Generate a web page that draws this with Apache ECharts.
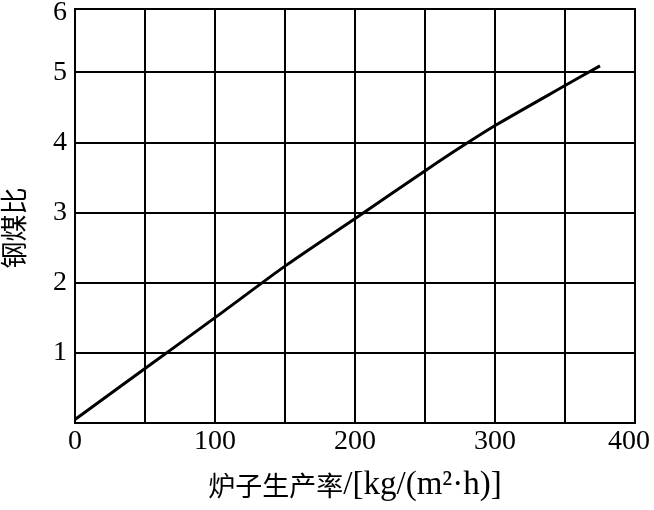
<!DOCTYPE html>
<html>
<head>
<meta charset="utf-8">
<script src="https://cdn.jsdelivr.net/npm/echarts@6/dist/echarts.min.js"></script>
<style>html,body{margin:0;padding:0;background:#fff;}#c{width:654px;height:510px;}</style>
</head>
<body>
<div id="c"></div>
<script>
// Data
const productivity = [0, 51, 102, 151, 202, 252, 277, 301, 351, 375];   // kg/(m2·h)
const steamCoalRatio = [0.05, 0.79, 1.53, 2.25, 2.94, 3.62, 3.95, 4.25, 4.82, 5.09];
const xTickLabels = ['0', '100', '200', '300', '400'];
const yTickLabels = ['', '1', '2', '3', '4', '5', '6'];
const xNameCjk = '炉子生产率';
const xNameUnit = '/[kg/(m²·h)]';
const yName = '钢煤比';

const serif = '"Liberation Serif", "Noto Sans CJK SC", serif';
const chart = echarts.init(document.getElementById('c'), null, {renderer: 'canvas'});
chart.setOption({
  animation: false,
  backgroundColor: '#fff',
  grid: {left: 75, right: 19, top: 9, bottom: 87, show: true, borderColor: '#000', borderWidth: 2,
         containLabel: false, outerBoundsMode: 'none'},
  xAxis: {
    type: 'value', min: 0, max: 400, interval: 50,
    name: '{c|' + xNameCjk + '}{l|' + xNameUnit + '}', nameLocation: 'middle', nameGap: 46,
    nameTextStyle: {
      fontFamily: serif, fontSize: 28, color: '#000',
      rich: {
        c: {fontFamily: '"Noto Sans CJK SC", sans-serif', fontSize: 27, color: '#000'},
        l: {fontFamily: serif, fontSize: 33, color: '#000'}
      }
    },
    axisLine: {show: true, lineStyle: {color: '#000', width: 2}},
    axisTick: {show: false},
    axisLabel: {
      fontFamily: serif, fontSize: 28, color: '#000', margin: 5,
      formatter: v => {
        if (v % 100 !== 0) return '';
        const s = xTickLabels[v / 100];
        return v === 400 ? '{r|' + s + '}' : s;
      },
      rich: {r: {fontFamily: serif, fontSize: 28, color: '#000', padding: [0, 12, 0, 0]}}
    },
    splitLine: {show: true, lineStyle: {color: '#000', width: 2}}
  },
  yAxis: {
    type: 'value', min: 0, max: 5.9, interval: 1,
    name: yName, nameLocation: 'middle', nameGap: 45, nameRotate: 90,
    nameTextStyle: {fontFamily: serif, fontSize: 27, color: '#000', padding: [0, 24, 0, 0]},
    axisLine: {show: true, lineStyle: {color: '#000', width: 2}},
    axisTick: {show: false},
    axisLabel: {
      fontFamily: serif, fontSize: 28, color: '#000', margin: 8, showMaxLabel: true,
      formatter: v => (Math.round(v) === 6 ? '{t|' + yTickLabels[6] + '}' : yTickLabels[Math.round(v)]),
      rich: {t: {fontFamily: serif, fontSize: 28, color: '#000', padding: [8, 0, 0, 0]}}
    },
    splitLine: {show: true, lineStyle: {color: '#000', width: 2}}
  },
  series: [{
    type: 'line',
    data: productivity.map((x, i) => [x, steamCoalRatio[i]]),
    smooth: 0.3,
    showSymbol: false,
    lineStyle: {color: '#000', width: 3},
    itemStyle: {color: '#000'}
  }]
});
</script>
</body>
</html>
